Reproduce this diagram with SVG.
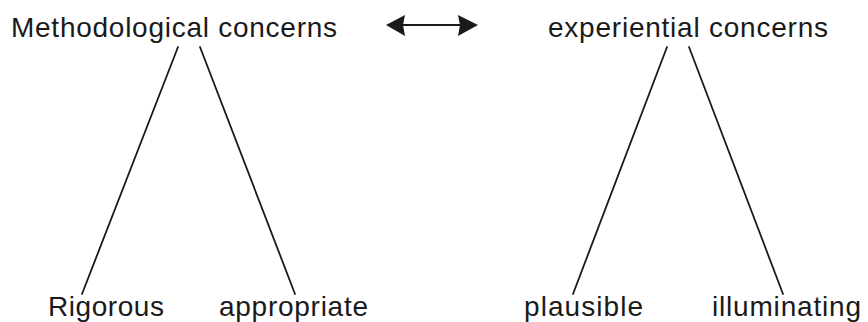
<svg xmlns="http://www.w3.org/2000/svg" width="868" height="322" viewBox="0 0 868 322">
  <style>
    .label { font-family: "Liberation Sans", Arial, sans-serif; font-size: 28px; fill: #1a1a1a; }
    .branch { stroke: #1a1a1a; stroke-width: 1.8; fill: none; stroke-linecap: round; }
    .link { stroke: #1a1a1a; stroke-width: 2.2; fill: none; }
    .tip { fill: #1a1a1a; }
  </style>
  <rect width="868" height="322" fill="#ffffff"/>

  <g id="methodological">
    <text class="label" x="11" y="37" textLength="326">Methodological concerns</text>
  </g>
  <g id="experiential">
    <text class="label" x="548" y="37" textLength="280">experiential concerns</text>
  </g>
  <g id="rigorous">
    <text class="label" x="48" y="316" textLength="116">Rigorous</text>
  </g>
  <g id="appropriate">
    <text class="label" x="219" y="316" textLength="149">appropriate</text>
  </g>
  <g id="plausible">
    <text class="label" x="524" y="316" textLength="119">plausible</text>
  </g>
  <g id="illuminating">
    <text class="label" x="712" y="316" textLength="149">illuminating</text>
  </g>

  <g id="connectors">
    <!-- two-way link between the two concerns -->
    <line class="link" x1="400" y1="25" x2="464" y2="25"/>
    <path class="tip" d="M386,25 L405,15 L403,25 L405,36 Z"/>
    <path class="tip" d="M478,25 L458,15 L460,25 L458,36 Z"/>
    <line class="branch" x1="178" y1="47" x2="82" y2="294"/>
    <line class="branch" x1="200" y1="47" x2="295" y2="294"/>
    <line class="branch" x1="667" y1="47" x2="573" y2="294"/>
    <line class="branch" x1="689" y1="47" x2="783" y2="294"/>
  </g>
</svg>
